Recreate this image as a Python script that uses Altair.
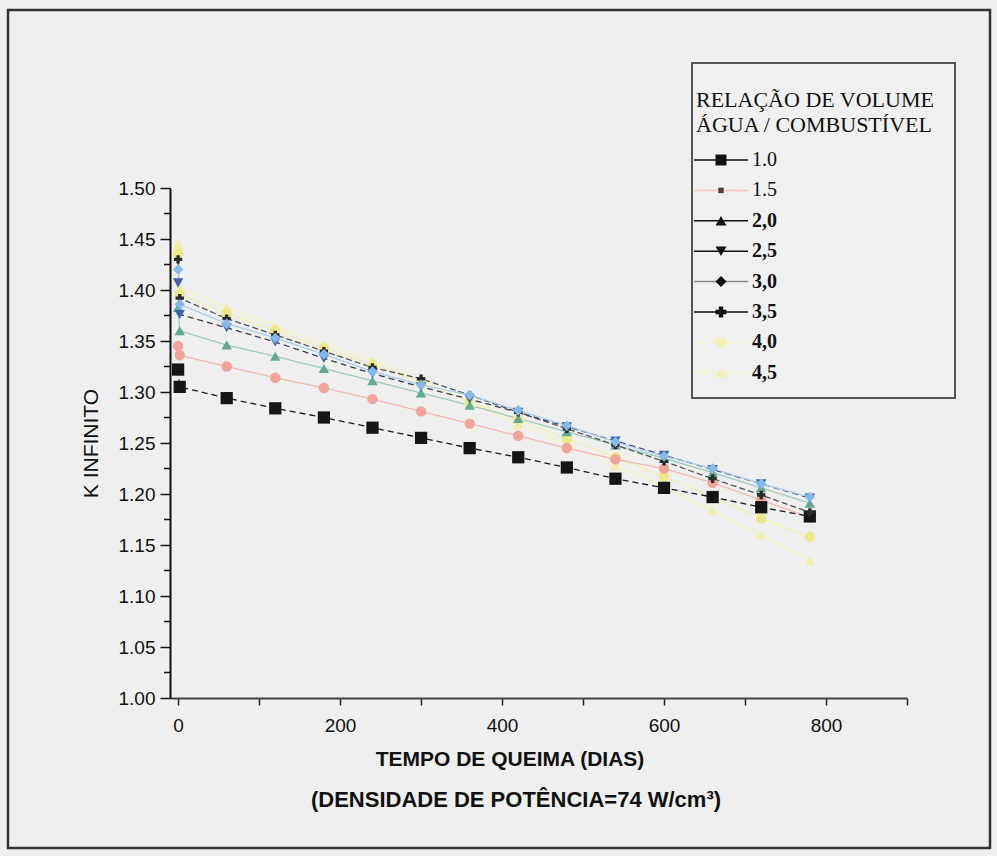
import altair as alt
import pandas as pd

# ---------------- data ----------------
days = [0, 2, 60, 120, 180, 240, 300, 360, 420, 480, 540, 600, 660, 720, 780]
ratios = ["1.0", "1.5", "2,0", "2,5", "3,0", "3,5", "4,0", "4,5"]

k_10 = [1.322, 1.305, 1.294, 1.284, 1.275, 1.265, 1.255, 1.245, 1.236, 1.226, 1.215, 1.206, 1.197, 1.187, 1.178]
k_15 = [1.345, 1.336, 1.325, 1.314, 1.304, 1.293, 1.281, 1.269, 1.257, 1.245, 1.234, 1.225, 1.211, 1.194, 1.177]
k_20 = [1.383, 1.360, 1.346, 1.335, 1.323, 1.311, 1.299, 1.287, 1.274, 1.261, 1.248, 1.235, 1.221, 1.206, 1.191]
k_25 = [1.407, 1.376, 1.363, 1.349, 1.333, 1.318, 1.305, 1.293, 1.280, 1.266, 1.252, 1.238, 1.224, 1.210, 1.196]
k_30 = [1.420, 1.386, 1.367, 1.353, 1.337, 1.320, 1.307, 1.297, 1.282, 1.267, 1.251, 1.237, 1.225, 1.210, 1.197]
k_35 = [1.430, 1.392, 1.372, 1.356, 1.340, 1.324, 1.313, 1.297, 1.280, 1.264, 1.248, 1.232, 1.215, 1.199, 1.182]
k_40 = [1.436, 1.396, 1.377, 1.360, 1.343, 1.327, 1.309, 1.291, 1.273, 1.254, 1.236, 1.217, 1.197, 1.176, 1.158]
k_45 = [1.445, 1.402, 1.383, 1.365, 1.347, 1.331, 1.312, 1.290, 1.268, 1.248, 1.228, 1.207, 1.184, 1.160, 1.135]
series = [k_10, k_15, k_20, k_25, k_30, k_35, k_40, k_45]

y_ticks = [1.00, 1.05, 1.10, 1.15, 1.20, 1.25, 1.30, 1.35, 1.40, 1.45, 1.50]
y_minor = [1.025, 1.075, 1.125, 1.175, 1.225, 1.275, 1.325, 1.375, 1.425, 1.475]
x_ticks = [0, 100, 200, 300, 400, 500, 600, 700, 800, 900]

legend_title = ["RELAÇÃO DE VOLUME", "ÁGUA / COMBUSTÍVEL"]
x_title = "TEMPO DE QUEIMA (DIAS)"
x_subtitle = "(DENSIDADE DE POTÊNCIA=74 W/cm³)"
y_title = "K INFINITO"

# ---------------- styles ----------------
line_colors = ["#1a1a1a", "#f4b7b0", "#9fcbbb", "#3c3c50", "#a9cdee", "#555555", "#f3efb0", "#f5f2c4"]
point_colors = ["#151515", "#f2a49b", "#63a995", "#3d63aa", "#86b9e8", "#2a2a2a", "#eee88c", "#f2eea8"]
shapes = ["square", "circle", "triangle-up", "triangle-down", "diamond", "cross", "circle", "triangle-up"]
sizes = [150, 110, 110, 110, 110, 70, 110, 110]
dashes = [[6, 4], [1, 0], [1, 0], [6, 4], [1, 0], [6, 3], [1, 0], [1, 0]]
draw_order = [7, 6, 1, 0, 2, 5, 3, 4]

leg_marker_colors = ["#111111", "#444444", "#111111", "#111111", "#111111", "#111111", "#f3f0b4", "#f3f0b4"]
leg_line_colors = ["#111111", "#f4c4bf", "#111111", "#111111", "#888888", "#111111", "#f6f3cf", "#f6f3cf"]
leg_shapes = ["square", "square", "triangle-up", "triangle-down", "diamond", "cross", "circle", "triangle-up"]
leg_bold = [False, False, True, True, True, True, True, True]

rows = []
for rank, i in enumerate(draw_order):
    for d, k in zip(days, series[i]):
        rows.append({"ratio": ratios[i], "day": d, "k": k, "lc": line_colors[i],
                     "pc": point_colors[i], "shape": shapes[i], "sz": sizes[i], "rank": rank})
df = pd.DataFrame(rows)

# ---------------- layout (pixels) ----------------
PL, PT = 170, 188          # plot origin in the page
PW, PH = 737, 510          # plot size
W, H = 997, 856

x_scale = alt.Scale(domain=[-10, 900], nice=False, zero=False)
y_scale = alt.Scale(domain=[1.0, 1.5], nice=False, zero=False)

FONT = "Liberation Sans"
SERIF = "Liberation Serif"

x_axis = alt.Axis(values=x_ticks, labelExpr="datum.value % 200 == 0 ? datum.label : ''",
                  format="d", tickSize=7, tickColor="#222", tickWidth=1.5,
                  domainColor="#444", domainWidth=2, labelFont=FONT, labelFontSize=19,
                  labelColor="#111", labelPadding=11, grid=False, title=None)
y_axis = alt.Axis(values=y_ticks, format=".2f", tickSize=10, tickColor="#111", tickWidth=1.5,
                  domainColor="#111", domainWidth=2, labelFont=FONT, labelFontSize=19,
                  labelColor="#111", labelPadding=5, grid=False, title=y_title,
                  titleFont=FONT, titleFontSize=21, titleFontWeight="normal",
                  titleColor="#111", titlePadding=17)

base = alt.Chart(df)

lines = base.mark_line(strokeWidth=1.3).encode(
    x=alt.X("day:Q", scale=x_scale, axis=x_axis),
    y=alt.Y("k:Q", scale=y_scale, axis=y_axis),
    color=alt.Color("lc:N", scale=None),
    strokeDash=alt.StrokeDash("ratio:N", scale=alt.Scale(domain=ratios, range=dashes), legend=None),
    detail="ratio:N",
    order="day:Q",
)

points = base.mark_point(filled=True, opacity=1, strokeWidth=0).encode(
    x=alt.X("day:Q", scale=x_scale),
    y=alt.Y("k:Q", scale=y_scale),
    color=alt.Color("pc:N", scale=None),
    shape=alt.Shape("shape:N", scale=None),
    size=alt.Size("sz:Q", scale=None),
    order="rank:Q",
)

minor = alt.Chart(pd.DataFrame({"v": y_minor})).mark_rule(color="#111", strokeWidth=1.5).encode(
    y=alt.Y("v:Q", scale=y_scale), x=alt.value(-6), x2=alt.value(0))

layers = [lines, points, minor]

# outer frame
layers.append(alt.Chart(pd.DataFrame({"a": [0]})).mark_rect(
    fill=None, stroke="#333", strokeWidth=2.5).encode(
    x=alt.value(8 - PL), x2=alt.value(990 - PL), y=alt.value(10 - PT), y2=alt.value(848 - PT)))

# x titles
layers.append(alt.Chart(pd.DataFrame({"t": [x_title]})).mark_text(
    font=FONT, fontSize=21, fontWeight="bold", color="#111", align="center", baseline="middle").encode(
    text="t:N", x=alt.value(510 - PL), y=alt.value(760 - PT)))
layers.append(alt.Chart(pd.DataFrame({"t": [x_subtitle]})).mark_text(
    font=FONT, fontSize=22, fontWeight="bold", color="#111", align="center", baseline="middle").encode(
    text="t:N", x=alt.value(516 - PL), y=alt.value(800 - PT)))

# legend box
LX0, LY0, LX1, LY1 = 692, 63, 955, 398
layers.append(alt.Chart(pd.DataFrame({"a": [0]})).mark_rect(
    fill="#f0f0f0", stroke="#555", strokeWidth=2).encode(
    x=alt.value(LX0 - PL), x2=alt.value(LX1 - PL), y=alt.value(LY0 - PT), y2=alt.value(LY1 - PT)))
for j, t in enumerate(legend_title):
    layers.append(alt.Chart(pd.DataFrame({"t": [t]})).mark_text(
        font=SERIF, fontSize=22, color="#111", align="left", baseline="middle").encode(
        text="t:N", x=alt.value(696 - PL), y=alt.value(100 + 25 * j - PT)))

for i, lab in enumerate(ratios):
    yy = 160 + 30.4 * i - PT
    layers.append(alt.Chart(pd.DataFrame({"a": [0]})).mark_rule(
        color=leg_line_colors[i], strokeWidth=1.5).encode(
        x=alt.value(694 - PL), x2=alt.value(748 - PL), y=alt.value(yy)))
    layers.append(alt.Chart(pd.DataFrame({"s": [leg_shapes[i]]})).mark_point(
        filled=True, size=120 if i != 1 else 30, opacity=1, color=leg_marker_colors[i], strokeWidth=0).encode(
        shape=alt.Shape("s:N", scale=None), x=alt.value(721 - PL), y=alt.value(yy)))
    layers.append(alt.Chart(pd.DataFrame({"t": [lab]})).mark_text(
        font=SERIF, fontSize=20, fontWeight="bold" if leg_bold[i] else "normal", color="#111",
        align="left", baseline="middle").encode(
        text="t:N", x=alt.value(752 - PL), y=alt.value(yy)))

chart = alt.layer(*layers).properties(
    width=PW, height=PH,
    autosize=alt.AutoSizeParams(type="none"),
    padding={"left": PL, "top": PT, "right": W - PL - PW, "bottom": H - PT - PH},
    background="#efefef",
).configure_view(stroke=None)

chart.save("out.html", embed_options={"renderer": "svg", "actions": False})
